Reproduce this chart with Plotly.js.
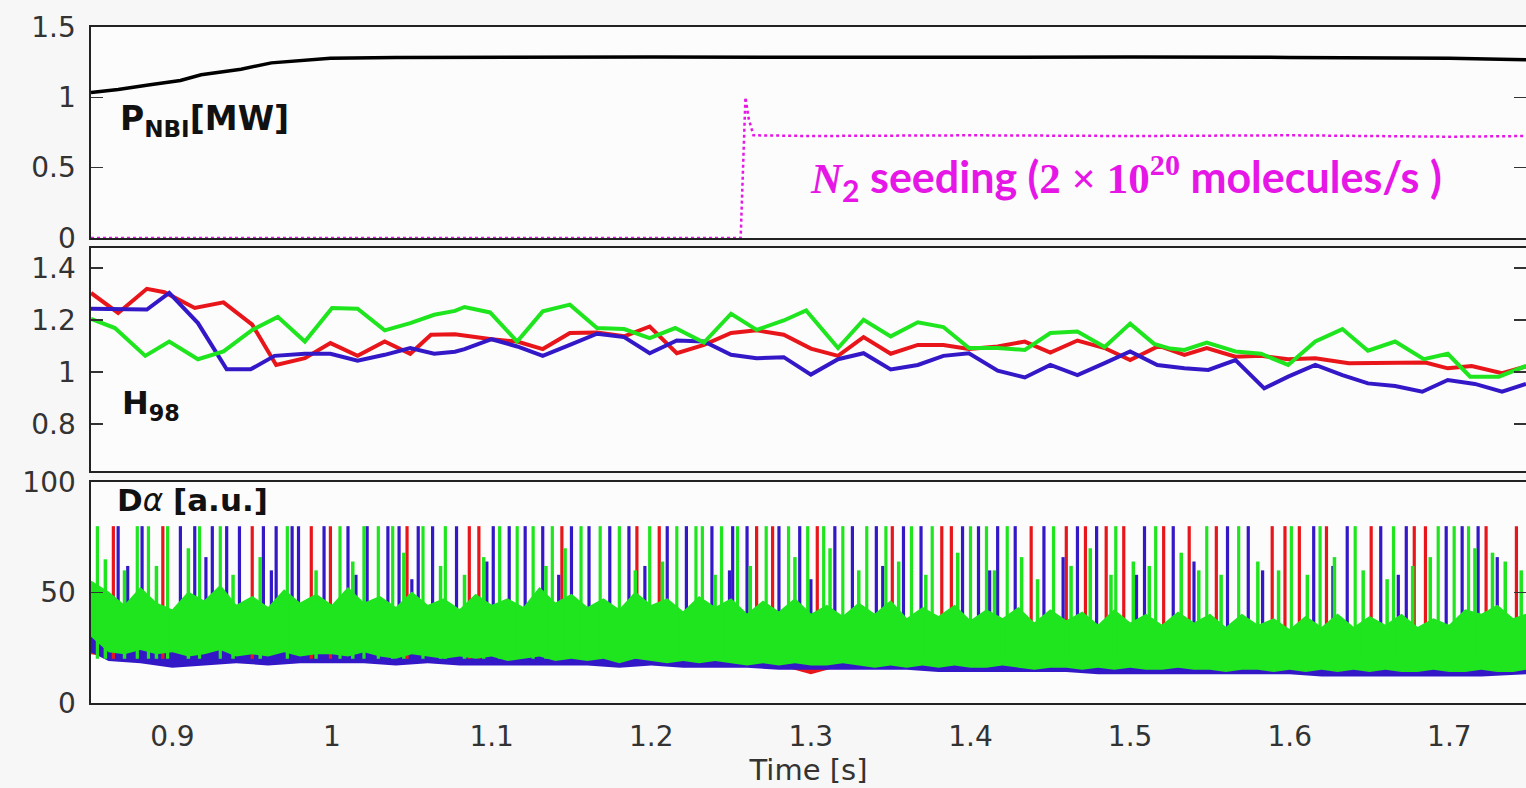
<!DOCTYPE html>
<html>
<head>
<meta charset="utf-8">
<script src="https://cdn.plot.ly/plotly-3.0.1.min.js"></script>
<style>html,body{margin:0;padding:0;background:#f7f7f7;}#chart{width:1526px;height:788px;}</style>
</head>
<body>
<div id="chart"></div>
<script>
// ---------- Panel 1: P_NBI and N2 seeding ----------
const pnbiTime = [0.849,0.866,0.886,0.905,0.918,0.943,0.962,0.981,0.999,1.04,1.10,1.20,1.30,1.40,1.50,1.60,1.70,1.748];
const pnbiValue = [1.035,1.055,1.09,1.12,1.16,1.20,1.245,1.26,1.278,1.283,1.285,1.287,1.285,1.287,1.286,1.284,1.278,1.268];

const n2Time = [0.849,1.256,1.259,1.261,1.264,1.30,1.40,1.50,1.60,1.70,1.748];
const n2Value = [0,0,1.0,0.85,0.73,0.725,0.73,0.725,0.73,0.72,0.725];

// ---------- Panel 2: H98 ----------
const h98RedTime = [0.849,0.866,0.884,0.895,0.914,0.932,0.950,0.965,0.983,0.999,1.016,1.033,1.049,1.062,1.077,1.100,1.116,1.132,1.149,1.166,1.183,1.199,1.216,1.233,1.250,1.266,1.283,1.300,1.317,1.333,1.350,1.367,1.383,1.399,1.417,1.434,1.450,1.467,1.484,1.500,1.518,1.534,1.548,1.566,1.582,1.599,1.616,1.637,1.685,1.699,1.714,1.733,1.748];
const h98Red = [1.304,1.227,1.320,1.307,1.246,1.268,1.182,1.027,1.053,1.111,1.062,1.117,1.070,1.143,1.145,1.126,1.117,1.088,1.150,1.152,1.137,1.175,1.072,1.104,1.150,1.160,1.143,1.090,1.062,1.134,1.070,1.104,1.104,1.088,1.098,1.117,1.075,1.121,1.092,1.046,1.100,1.066,1.092,1.059,1.062,1.049,1.053,1.034,1.036,1.014,1.023,0.995,1.021];

const h98BlueTime = [0.849,0.884,0.898,0.916,0.934,0.949,0.964,0.983,0.999,1.016,1.033,1.049,1.064,1.077,1.083,1.100,1.116,1.132,1.149,1.166,1.183,1.199,1.216,1.233,1.250,1.266,1.283,1.300,1.317,1.333,1.350,1.367,1.383,1.399,1.417,1.434,1.450,1.467,1.484,1.500,1.517,1.534,1.549,1.566,1.584,1.599,1.616,1.633,1.649,1.666,1.683,1.699,1.716,1.733,1.748];
const h98Blue = [1.243,1.240,1.304,1.188,1.010,1.010,1.062,1.070,1.070,1.043,1.066,1.092,1.070,1.078,1.088,1.126,1.098,1.062,1.104,1.147,1.134,1.072,1.121,1.117,1.066,1.053,1.057,0.990,1.049,1.072,1.010,1.027,1.062,1.072,1.005,0.979,1.027,0.988,1.034,1.079,1.027,1.014,1.008,1.046,0.937,0.982,1.027,0.988,0.956,0.946,0.924,0.969,0.954,0.924,0.954];

const h98GreenTime = [0.849,0.864,0.883,0.898,0.916,0.932,0.950,0.966,0.983,1.000,1.016,1.033,1.049,1.064,1.077,1.083,1.099,1.116,1.132,1.149,1.166,1.183,1.199,1.215,1.233,1.250,1.266,1.283,1.297,1.317,1.333,1.350,1.367,1.383,1.399,1.417,1.434,1.450,1.467,1.484,1.500,1.515,1.525,1.534,1.548,1.566,1.582,1.599,1.616,1.633,1.649,1.666,1.684,1.699,1.713,1.731,1.748];
const h98Green = [1.204,1.169,1.062,1.117,1.049,1.079,1.162,1.212,1.117,1.246,1.243,1.160,1.188,1.220,1.235,1.250,1.229,1.117,1.233,1.259,1.169,1.165,1.130,1.169,1.113,1.224,1.162,1.198,1.237,1.092,1.201,1.137,1.191,1.173,1.092,1.092,1.085,1.150,1.156,1.096,1.186,1.108,1.090,1.085,1.113,1.079,1.070,1.027,1.117,1.165,1.082,1.117,1.049,1.070,0.982,0.982,1.023];

// ---------- Panel 3: D-alpha ----------
// green inter-ELM band (fine resolution)
const daGreenTime = [0.849,0.86,0.87,0.88,0.89,0.90,0.91,0.92,0.93,0.94,0.95,0.96,0.97,0.98,0.99,1.00,1.01,1.02,1.03,1.04,1.05,1.06,1.07,1.08,1.09,1.10,1.11,1.12,1.13,1.14,1.15,1.16,1.17,1.18,1.19,1.20,1.21,1.22,1.23,1.24,1.25,1.26,1.27,1.28,1.29,1.30,1.31,1.32,1.33,1.34,1.35,1.36,1.37,1.38,1.39,1.40,1.41,1.42,1.43,1.44,1.45,1.46,1.47,1.48,1.49,1.50,1.51,1.52,1.53,1.54,1.55,1.56,1.57,1.58,1.59,1.60,1.61,1.62,1.63,1.64,1.65,1.66,1.67,1.68,1.69,1.70,1.71,1.72,1.73,1.74,1.748];
const daGreenHigh = [55,50,44,52,45,42,50,46,53,44,48,43,51,45,49,44,52,45,48,43,50,44,47,42,49,44,47,43,52,45,49,43,47,42,50,44,47,41,48,43,47,40,46,41,47,40,44,39,45,40,46,38,43,39,44,37,42,38,43,36,42,37,41,35,42,36,40,35,41,36,40,34,40,35,38,33,39,34,40,34,39,35,40,34,38,35,42,40,44,38,40];
const daGreenLow  = [30,23,22,24,22,23,21,22,24,21,22,21,23,21,22,22,21,23,21,20,22,21,20,21,20,21,19,20,21,19,20,19,20,18,20,19,18,19,18,19,18,17,18,17,18,17,17,18,17,16,17,16,17,16,17,16,16,17,16,15,16,16,15,16,15,16,15,15,16,15,15,14,15,15,14,15,14,15,14,15,14,15,14,14,15,14,14,15,14,14,15];

// blue and red inter-ELM bands (coarse)
const daBandTime  = [0.849,0.86,0.88,0.90,0.92,0.94,0.96,0.98,1.00,1.02,1.04,1.06,1.08,1.10,1.12,1.14,1.16,1.18,1.20,1.22,1.24,1.26,1.28,1.30,1.32,1.34,1.36,1.38,1.40,1.42,1.44,1.46,1.48,1.50,1.52,1.54,1.56,1.58,1.60,1.62,1.64,1.66,1.68,1.70,1.72,1.748];
const daBlueLow   = [23,19,18,16,17,18,17,18,18,18,17,18,17,17,17,17,17,16,17,16,16,16,15,15,15,15,15,14,14,14,14,14,13,13,13,13,13,13,13,12,12,12,12,12,12,13];
const daBlueHigh  = [32,31,30,30,30,30,30,30,30,29,29,29,29,29,28,28,28,28,28,27,27,27,27,26,26,26,26,26,25,25,25,25,25,24,24,24,24,24,23,23,23,23,23,23,23,23];
const daRedLow    = [22,21,20,19,19,20,19,20,20,19,19,19,19,19,18,19,18,18,18,18,17,17,17,13,17,16,16,16,16,15,15,16,15,15,15,15,15,15,15,14,14,15,14,14,14,14];
const daRedHigh   = [30,29,28,28,28,28,28,28,28,27,27,27,27,27,26,26,26,26,26,25,25,25,25,24,24,24,24,24,23,23,23,23,23,22,22,22,22,22,22,22,22,22,22,22,22,22];

// ELM spikes (saturated at the detector limit)
const elmRedTime = [0.863,0.894,0.950,0.987,0.999,1.047,1.086,1.092,1.144,1.191,1.205,1.266,1.276,1.304,1.351,1.382,1.388,1.438,1.460,1.472,1.485,1.496,1.521,1.537,1.554,1.589,1.597,1.606,1.623,1.651,1.678,1.685,1.723,1.742];
const elmBlueTime = [0.866,0.881,0.905,0.914,0.925,0.934,0.942,0.957,0.965,0.975,0.979,0.995,1.010,1.022,1.035,1.042,1.054,1.063,1.078,1.101,1.111,1.121,1.132,1.150,1.161,1.174,1.186,1.210,1.222,1.238,1.251,1.260,1.280,1.293,1.315,1.326,1.341,1.358,1.369,1.395,1.405,1.417,1.428,1.446,1.467,1.479,1.509,1.527,1.561,1.574,1.615,1.636,1.657,1.673,1.698,1.708,1.718];
const elmGreenTime = [0.853,0.878,0.885,0.897,0.917,0.930,0.972,1.005,1.020,1.029,1.038,1.057,1.071,1.105,1.116,1.126,1.138,1.156,1.168,1.180,1.199,1.216,1.228,1.232,1.244,1.254,1.272,1.286,1.298,1.308,1.320,1.335,1.347,1.363,1.376,1.400,1.410,1.423,1.452,1.491,1.516,1.548,1.568,1.601,1.619,1.641,1.665,1.693,1.703,1.712];
const elmPeak = 80;
const elmBase = 20;
// smaller (unsaturated) bursts
const burstGreenTime = [0.858,0.870,0.890,0.910,0.938,0.955,0.990,1.013,1.045,1.068,1.083,1.095,1.134,1.146,1.190,1.207,1.240,1.262,1.290,1.312,1.330,1.355,1.372,1.392,1.415,1.432,1.442,1.463,1.475,1.488,1.502,1.512,1.532,1.543,1.557,1.580,1.593,1.611,1.628,1.646,1.661,1.677,1.688,1.716,1.727,1.735,1.745];
const burstGreenPeak = [65,60,62,70,58,66,60,64,68,62,58,66,62,70,60,64,58,62,66,70,60,64,58,68,60,66,56,62,70,58,64,62,68,60,58,64,60,58,66,60,56,62,66,70,68,64,60];
const burstBlueTime = [0.872,0.921,0.962,1.015,1.050,1.097,1.142,1.196,1.249,1.300,1.345,1.412,1.458,1.504,1.540,1.583,1.627,1.668,1.730];
const burstBluePeak = [62,66,60,58,56,64,58,62,60,56,62,60,66,58,64,60,62,58,66];

const xTickVals = [0.9,1.0,1.1,1.2,1.3,1.4,1.5,1.6,1.7];
const xTickText = ['0.9','1','1.1','1.2','1.3','1.4','1.5','1.6','1.7'];

// ---------- colours ----------
const RED = '#e8161a', BLUE = '#3318c8', GREEN = '#1fe51f', MAG = '#e616e6';

function spikes(times, base, peaks) {
  const xs = [], ys = [];
  times.forEach((t, i) => { xs.push(t, t, null); ys.push(base, Array.isArray(peaks) ? peaks[i] : peaks, null); });
  return {x: xs, y: ys};
}
function band(time, low, high, color, xa, ya) {
  return [
    {x: time, y: low, xaxis: xa, yaxis: ya, mode: 'lines', line: {width: 0, color: color}, hoverinfo: 'skip'},
    {x: time, y: high, xaxis: xa, yaxis: ya, mode: 'lines', fill: 'tonexty', fillcolor: color, line: {width: 1.5, color: color}, hoverinfo: 'skip'}
  ];
}
function spikeTrace(s, color, w) {
  return {x: s.x, y: s.y, xaxis: 'x', yaxis: 'y', mode: 'lines', line: {color: color, width: w}, connectgaps: false};
}

const traces = [
  // bottom panel
  ...band(daBandTime, daRedLow, daRedHigh, RED, 'x', 'y'),
  ...band(daBandTime, daBlueLow, daBlueHigh, BLUE, 'x', 'y'),
  spikeTrace(spikes(elmRedTime, elmBase, elmPeak), RED, 3.2),
  spikeTrace(spikes(elmBlueTime, elmBase, elmPeak), BLUE, 3.2),
  spikeTrace(spikes(burstBlueTime, elmBase, burstBluePeak), BLUE, 3.2),
  ...band(daGreenTime, daGreenLow, daGreenHigh, GREEN, 'x', 'y'),
  spikeTrace(spikes(burstGreenTime, elmBase, burstGreenPeak), GREEN, 3.5),
  spikeTrace(spikes(elmGreenTime, elmBase, elmPeak), GREEN, 3.2),
  // middle panel
  {x: h98RedTime, y: h98Red, xaxis: 'x2', yaxis: 'y2', mode: 'lines', line: {color: RED, width: 4}},
  {x: h98BlueTime, y: h98Blue, xaxis: 'x2', yaxis: 'y2', mode: 'lines', line: {color: BLUE, width: 4}},
  {x: h98GreenTime, y: h98Green, xaxis: 'x2', yaxis: 'y2', mode: 'lines', line: {color: GREEN, width: 4}},
  // top panel
  {x: n2Time, y: n2Value, xaxis: 'x3', yaxis: 'y3', mode: 'lines', line: {color: MAG, width: 2.5, dash: 'dot'}},
  {x: pnbiTime, y: pnbiValue, xaxis: 'x3', yaxis: 'y3', mode: 'lines', line: {color: '#000', width: 3.5}}
];

const XR = [0.849, 1.748];
const tickFont = {family: 'DejaVu Sans', size: 28, color: '#333'};
const yCommon = {showline: true, mirror: 'ticks', linecolor: '#222', linewidth: 1.6, ticks: 'inside', ticklen: 12, tickwidth: 1.5, tickcolor: '#333', showgrid: false, zeroline: false, tickfont: tickFont, ticklabelstandoff: 8};
const xCommon = {range: XR, showline: true, mirror: true, linecolor: '#222', linewidth: 1.6, ticks: '', showgrid: false, zeroline: false};

const layout = {
  width: 1526, height: 788,
  paper_bgcolor: '#f7f7f7', plot_bgcolor: '#fcfcfc',
  margin: {l: 91, r: 0, t: 27, b: 85},
  showlegend: false,
  xaxis: Object.assign({}, xCommon, {anchor: 'y', tickvals: xTickVals, ticktext: xTickText, tickfont: tickFont, ticklabelstandoff: 8,
    title: {text: 'Time [s]', font: {family: 'DejaVu Sans', size: 29, color: '#333'}, standoff: 2}}),
  xaxis2: Object.assign({}, xCommon, {anchor: 'y2', matches: 'x', showticklabels: false}),
  xaxis3: Object.assign({}, xCommon, {anchor: 'y3', matches: 'x', showticklabels: false}),
  yaxis: Object.assign({}, yCommon, {anchor: 'x', domain: [0, 0.327], range: [0, 100], tickvals: [0, 50, 100]}),
  yaxis2: Object.assign({}, yCommon, {anchor: 'x2', domain: [0.3432, 0.6731], range: [0.619, 1.477], tickvals: [0.8, 1, 1.2, 1.4], ticktext: ['0.8','1','1.2','1.4']}),
  yaxis3: Object.assign({}, yCommon, {anchor: 'x3', domain: [0.6879, 1], range: [0, 1.5], tickvals: [0, 0.5, 1, 1.5], ticktext: ['0','0.5','1','1.5']}),
  annotations: [
    {xref: 'paper', yref: 'paper', x: 0.0188, y: 0.862, xanchor: 'left', yanchor: 'middle', showarrow: false,
     text: '<b>P<sub>NBI</sub>[MW]</b>', font: {family: 'DejaVu Sans', size: 33, color: '#111'}},
    {xref: 'paper', yref: 'paper', x: 0.0202, y: 0.441, xanchor: 'left', yanchor: 'middle', showarrow: false,
     text: '<b>H<sub>98</sub></b>', font: {family: 'DejaVu Sans', size: 32, color: '#111'}},
    {xref: 'paper', yref: 'paper', x: 0.0167, y: 0.300, xanchor: 'left', yanchor: 'middle', showarrow: false,
     text: '<b>D</b><i>α</i> <b>[a.u.]</b>', font: {family: 'DejaVu Sans', size: 31, color: '#111'}},
    {xref: 'paper', yref: 'paper', x: 0.4997, y: 0.777, xanchor: 'left', yanchor: 'middle', showarrow: false,
     text: '<span style="font-family:\'Liberation Serif\'"><i><b>N</b></i></span><sub><b>2</b></sub><b> seeding (</b><span style="font-family:\'Liberation Serif\'"><b>2 × 10<sup>20</sup></b></span><b> molecules/s )</b>',
     font: {family: 'Lato', size: 43, color: MAG}}
  ]
};

Plotly.newPlot('chart', traces, layout, {displayModeBar: false, staticPlot: true});
</script>
</body>
</html>
